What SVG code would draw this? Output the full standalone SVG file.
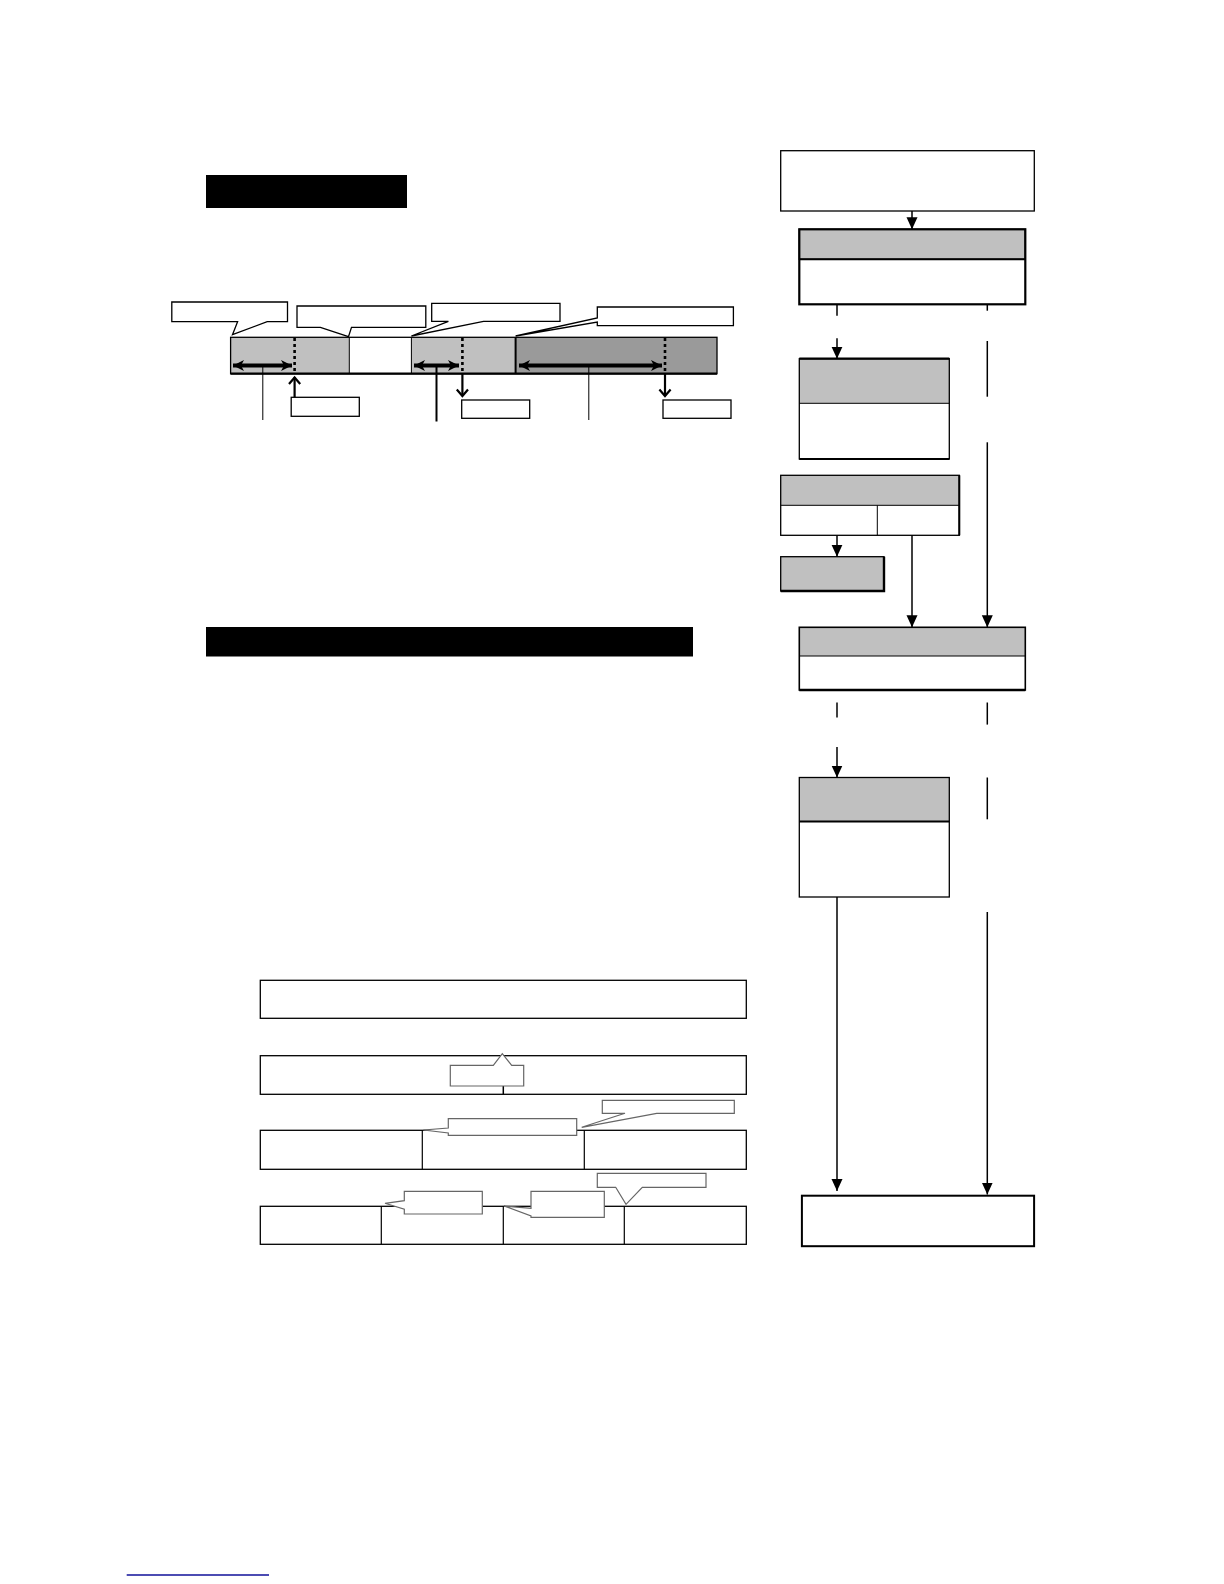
<svg xmlns="http://www.w3.org/2000/svg" width="1224" height="1584" viewBox="0 0 1224 1584">
<style>
.box{fill:#fff;stroke:#000;stroke-width:1.3}
.hdr{fill:#c0c0c0;stroke:#000;stroke-width:1.3}
.thk{fill:none;stroke:#000;stroke-width:2.2}
.ln{fill:none;stroke:#000;stroke-width:1.5}
.arr{fill:none;stroke:#000;stroke-width:1.5;marker-end:url(#ah)}
.dot{stroke:#000;stroke-width:2.6;stroke-dasharray:3,3}
.dbl{stroke:#000;stroke-width:4;marker-start:url(#dh);marker-end:url(#dh)}
.chev{fill:none;stroke:#000;stroke-width:2.2}
.co{fill:#fff;stroke:#000;stroke-width:1.3}
.cog{fill:#fff;stroke:#666;stroke-width:1.2}
</style>
<defs>
<marker id="ah" markerUnits="userSpaceOnUse" viewBox="0 0 12 12" markerWidth="12" markerHeight="12" refX="12" refY="6" orient="auto"><path d="M0,0.5 L12,6 L0,11.5 z" fill="#000"/></marker>
<marker id="dh" markerUnits="userSpaceOnUse" viewBox="0 0 12 12" markerWidth="12" markerHeight="12" refX="11" refY="6" orient="auto-start-reverse"><path d="M0,0.5 L11,6 L0,11.5 L3,6 z" fill="#000"/></marker>
</defs>

<!-- black title bars -->
<g id="title1"><rect x="206" y="175" width="201" height="33" fill="#000"/></g>
<g id="title2"><rect x="206" y="627" width="487" height="29.5" fill="#000"/></g>

<!-- timeline bar -->
<g id="bar">
<rect x="230.6" y="337.3" width="118.7" height="36.4" fill="#c0c0c0"/>
<rect x="349.3" y="337.3" width="62.1" height="36.4" fill="#fff"/>
<rect x="411.4" y="337.3" width="104.2" height="36.4" fill="#c0c0c0"/>
<rect x="515.6" y="337.3" width="201.4" height="36.4" fill="#9a9a9a"/>
<line x1="349.3" y1="337.3" x2="349.3" y2="373.7" stroke="#000" stroke-width="1"/>
<line x1="411.4" y1="337.3" x2="411.4" y2="373.7" stroke="#000" stroke-width="1"/>
<line x1="515.6" y1="337.3" x2="515.6" y2="373.7" stroke="#000" stroke-width="2"/>
<rect x="230.6" y="337.3" width="486.4" height="36.4" fill="none" stroke="#000" stroke-width="1.3"/>
<line x1="230.6" y1="373.7" x2="717" y2="373.7" stroke="#000" stroke-width="2.2"/>
<line class="dot" x1="294.6" y1="338" x2="294.6" y2="373"/>
<line class="dot" x1="462.4" y1="338" x2="462.4" y2="373"/>
<line class="dot" x1="665" y1="338" x2="665" y2="373"/>
<line class="dbl" x1="233" y1="365.5" x2="292" y2="365.5"/>
<line class="dbl" x1="414" y1="365.5" x2="459" y2="365.5"/>
<line class="dbl" x1="519" y1="365.5" x2="662" y2="365.5"/>
</g>

<!-- bar annotations -->
<g id="bar-marks">
<line x1="262.8" y1="367" x2="262.8" y2="420" stroke="#000" stroke-width="1"/>
<line x1="436.5" y1="367" x2="436.5" y2="421.5" stroke="#000" stroke-width="2"/>
<line x1="588.8" y1="367" x2="588.8" y2="420" stroke="#000" stroke-width="1"/>
<line class="chev" x1="294.6" y1="398" x2="294.6" y2="377"/>
<polyline class="chev" points="289,384 294.6,377.5 300.2,384"/>
<line class="chev" x1="462.4" y1="374" x2="462.4" y2="396"/>
<polyline class="chev" points="456.8,389.5 462.4,396 468,389.5"/>
<line class="chev" x1="665" y1="374" x2="665" y2="396"/>
<polyline class="chev" points="659.4,389.5 665,396 670.6,389.5"/>
</g>
<g id="tag1"><rect class="box" x="291.2" y="397.3" width="68.1" height="19"/></g>
<g id="tag2"><rect class="box" x="461.7" y="400" width="68" height="18.3"/></g>
<g id="tag3"><rect class="box" x="663" y="400" width="68" height="18.3"/></g>

<!-- callouts over bar -->
<g id="callout1"><polygon class="co" points="171.8,302 287.5,302 287.5,321.7 267.2,321.7 232.5,334.7 237.6,321.7 171.8,321.7"/></g>
<g id="callout2"><polygon class="co" points="297,306 425.8,306 425.8,327.3 351.5,327.3 348.5,336.7 320.4,327.3 297,327.3"/></g>
<g id="callout3"><polygon class="co" points="431.7,303.3 560,303.3 560,321.3 483.5,321.3 411.4,336 448.4,321.3 431.7,321.3"/></g>
<g id="callout4"><polygon class="co" points="597.3,307 733.4,307 733.4,325.7 597.3,325.7 597.3,322 515.6,336 597.3,318"/></g>

<!-- bottom layered diagram -->
<g id="rowA"><rect class="box" x="260.3" y="980.3" width="486" height="38"/></g>
<g id="rowB"><rect class="box" x="260.3" y="1055.7" width="486" height="38.6"/><line class="ln" x1="503.3" y1="1086" x2="503.3" y2="1094.3" stroke-width="1"/></g>
<g id="rowC"><rect class="box" x="260.3" y="1130.3" width="486" height="39"/><line x1="422.3" y1="1130.3" x2="422.3" y2="1169.3" stroke="#000" stroke-width="1.2"/><line x1="584.3" y1="1130.3" x2="584.3" y2="1169.3" stroke="#000" stroke-width="1.2"/></g>
<g id="rowD"><rect class="box" x="260.3" y="1206.3" width="486" height="38"/><line x1="381.3" y1="1206.3" x2="381.3" y2="1244.3" stroke="#000" stroke-width="1.2"/><line x1="503.3" y1="1206.3" x2="503.3" y2="1244.3" stroke="#000" stroke-width="1.2"/><line x1="624.3" y1="1206.3" x2="624.3" y2="1244.3" stroke="#000" stroke-width="1.2"/></g>
<g id="calloutB"><polygon class="cog" points="450.3,1065.3 493.3,1065.3 502.3,1053.7 511.7,1065.3 523.7,1065.3 523.7,1086 450.3,1086"/></g>
<g id="calloutC1"><polygon class="cog" points="448.3,1118.7 576.7,1118.7 576.7,1135.3 448.3,1135.3 448.3,1133 423.3,1130 448.3,1128"/></g>
<g id="calloutC2"><polygon class="cog" points="602.3,1100.3 734.3,1100.3 734.3,1113.3 656.7,1113.3 581.7,1127.3 625,1113.3 602.3,1113.3"/></g>
<g id="calloutD1"><polygon class="cog" points="404.3,1191.3 482.3,1191.3 482.3,1214 404.3,1214 404.3,1209.3 385,1203.3 404.3,1200.7"/></g>
<g id="calloutD2"><polygon class="cog" points="531,1191.3 604.3,1191.3 604.3,1217.3 531,1217.3 531,1216 504,1206 531,1208.3"/></g>
<g id="calloutD3"><polygon class="cog" points="597.3,1173.3 706,1173.3 706,1187.3 642.3,1187.3 626,1204.3 615.7,1187.3 597.3,1187.3"/></g>

<!-- flowchart nodes -->
<g id="n-top"><rect class="box" x="780.7" y="150.7" width="253.6" height="60.3"/></g>
<g id="n-2"><rect class="hdr" x="799.3" y="229.3" width="226" height="30" stroke="none"/><rect x="799.3" y="229.3" width="226" height="75" fill="none" stroke="#000" stroke-width="2.2"/><line x1="799.3" y1="259.3" x2="1025.3" y2="259.3" stroke="#000" stroke-width="2"/></g>
<g id="n-3"><rect x="799.3" y="358.7" width="150" height="44.6" fill="#c0c0c0"/><rect x="799.3" y="358.7" width="150" height="100.3" fill="none" stroke="#000" stroke-width="1.3"/><line x1="799.3" y1="358.7" x2="949.3" y2="358.7" stroke="#000" stroke-width="2.2"/><line x1="799.3" y1="459" x2="949.3" y2="459" stroke="#000" stroke-width="2.2"/><line x1="799.3" y1="403.3" x2="949.3" y2="403.3" stroke="#000" stroke-width="1"/></g>
<g id="n-4"><rect x="780.7" y="475.3" width="178.6" height="30" fill="#c0c0c0"/><rect x="780.7" y="475.3" width="178.6" height="60" fill="none" stroke="#000" stroke-width="1.3"/><line x1="780.7" y1="505.3" x2="959.3" y2="505.3" stroke="#000" stroke-width="1"/><line x1="877.3" y1="505.3" x2="877.3" y2="535.3" stroke="#000" stroke-width="1"/><line x1="959.3" y1="475.3" x2="959.3" y2="535.3" stroke="#000" stroke-width="2"/></g>
<g id="n-5"><rect x="780.7" y="556.7" width="103.3" height="34.3" fill="#c0c0c0" stroke="#000" stroke-width="1.3"/><polyline points="884,556.7 884,591 780.7,591" fill="none" stroke="#000" stroke-width="2.4"/></g>
<g id="n-6"><rect x="799.3" y="627.3" width="226" height="28.7" fill="#c0c0c0"/><rect x="799.3" y="627.3" width="226" height="62.7" fill="none" stroke="#000" stroke-width="1.6"/><line x1="799.3" y1="690" x2="1025.3" y2="690" stroke="#000" stroke-width="2.4"/><line x1="799.3" y1="656" x2="1025.3" y2="656" stroke="#000" stroke-width="1"/></g>
<g id="n-7"><rect x="799.3" y="777.5" width="150" height="43.9" fill="#c0c0c0"/><rect x="799.3" y="777.5" width="150" height="119.5" fill="none" stroke="#000" stroke-width="1.3"/><line x1="799.3" y1="821.4" x2="949.3" y2="821.4" stroke="#000" stroke-width="2"/></g>
<g id="n-end"><rect x="801.9" y="1195.7" width="232.2" height="50.5" fill="#fff" stroke="#000" stroke-width="2"/></g>

<!-- connectors -->
<g id="connectors">
<line class="arr" x1="912" y1="211" x2="912" y2="229.3"/>
<line class="ln" x1="837" y1="305" x2="837" y2="315.7"/>
<line class="arr" x1="837" y1="338.3" x2="837" y2="358.7"/>
<line class="ln" x1="987.3" y1="305" x2="987.3" y2="310.7"/>
<line class="ln" x1="987.3" y1="341" x2="987.3" y2="396.7"/>
<line class="arr" x1="987.3" y1="442.3" x2="987.3" y2="627.3"/>
<line class="arr" x1="837" y1="535.3" x2="837" y2="556.7"/>
<line class="arr" x1="912" y1="535.3" x2="912" y2="627.3"/>
<line class="ln" x1="837" y1="702.5" x2="837" y2="717.5"/>
<line class="arr" x1="837" y1="747" x2="837" y2="777.5"/>
<line class="ln" x1="987.3" y1="702.5" x2="987.3" y2="724.6"/>
<line class="ln" x1="987.3" y1="777.5" x2="987.3" y2="819.3"/>
<line class="arr" x1="837" y1="897" x2="837" y2="1191"/>
<line class="arr" x1="987.3" y1="912" x2="987.3" y2="1194.5"/>
</g>

<line x1="126.7" y1="1575" x2="269" y2="1575" stroke="#10109a" stroke-width="1.5"/>
</svg>
